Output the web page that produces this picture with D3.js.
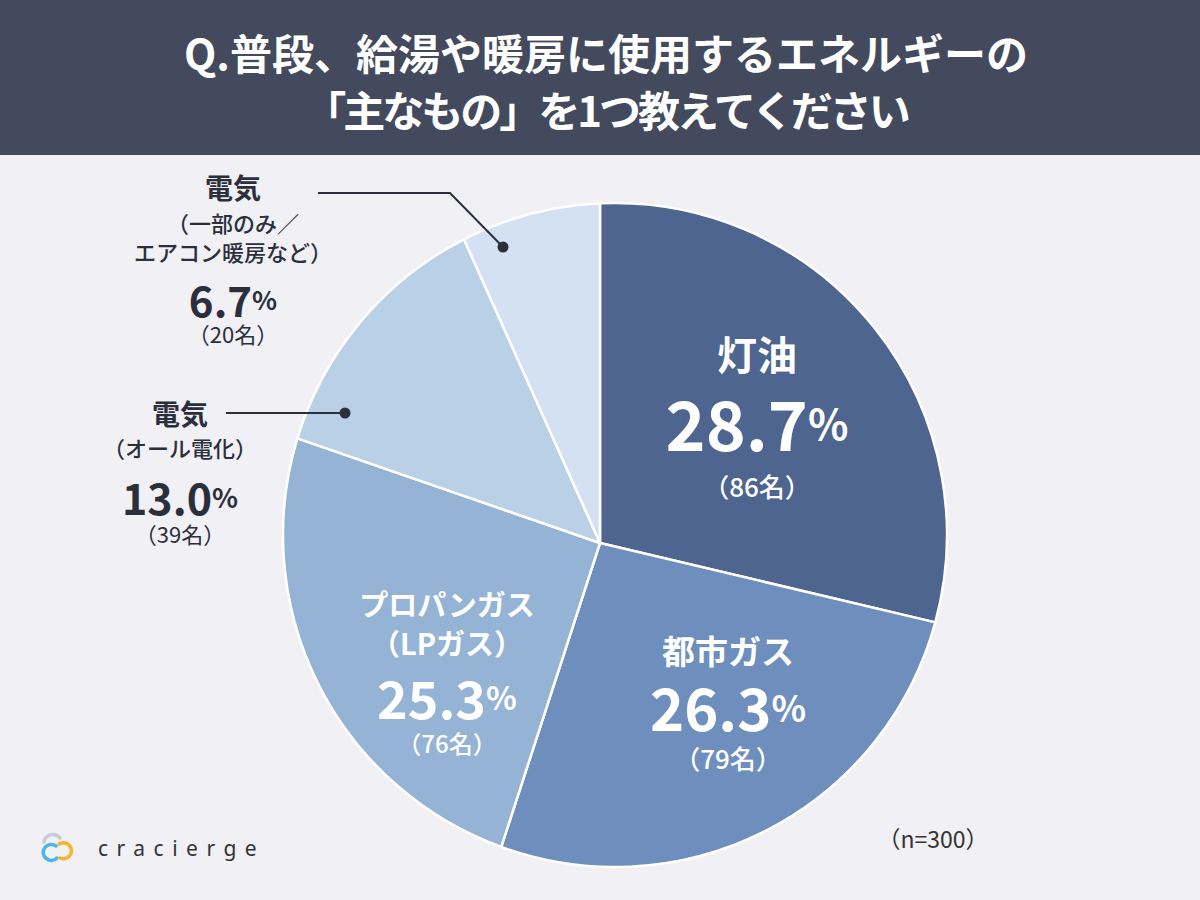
<!DOCTYPE html>
<html><head><meta charset="utf-8">
<script src="https://cdn.jsdelivr.net/npm/d3@7"></script>
<style>html,body{margin:0;padding:0;background:#f1f0f4;} svg{display:block;}</style>
</head><body><svg id="chart" width="1200" height="900"></svg>
<script>
// ---------- data ----------
const categories = ["灯油", "都市ガス", "プロパンガス（LPガス）", "電気（オール電化）", "電気（一部のみ／エアコン暖房など）"];
const percents = [28.7, 26.3, 25.3, 13.0, 6.7];
const counts = [86, 79, 76, 39, 20];
const labelLines = [["灯油"], ["都市ガス"], ["プロパンガス", "（LPガス）"], ["電気", "（オール電化）"], ["電気", "（一部のみ／", "エアコン暖房など）"]];
const titleLines = ["Q.普段、給湯や暖房に使用するエネルギーの", "「主なもの」を1つ教えてください"];
const sampleNote = "（n=300）";
const brand = "cracierge";

// ---------- styles / layout ----------
const colors = ["#4e6590", "#6e8fbd", "#95b3d4", "#b9d0e7", "#d4e1f3"];
const FONT = "'Noto Sans CJK JP','Noto Sans',sans-serif";
const dark = "#2b2f3c";
const V = {x: 600, y: 543};          // slice vertex
const C = {x: 615, y: 535}, R = 332; // outer circle
const titleStyle = [{size: 42, ls: 0}, {size: 42, ls: -3}];
const labelLayout = [
  {x: 757, ys: [353], py: 421, cy: 485, nf: 40, pf: 68, psf: 42, cf: 26, fill: "#fff", cw: 500},
  {x: 728, ys: [650], py: 706, cy: 757, nf: 33, pf: 58, psf: 36, cf: 26, fill: "#fff", cw: 500},
  {x: 447, ys: [603, 642], py: 696, cy: 742, nf: 29, pf: 52, psf: 32, cf: 24, fill: "#fff", cw: 500},
  {x: 180, ys: [413, 447], py: 496, cy: 533, nf: 28, pf: 43, psf: 27, cf: 22, fill: dark, cw: 400, sf: 22},
  {x: 233, ys: [187, 222, 251], py: 298, cy: 333, nf: 28, pf: 42, psf: 26, cf: 22, fill: dark, cw: 400, sf: 22}
];
const leaders = {3: [[226, 413], [345, 413]], 4: [[318, 193], [450, 193], [503, 247]]};

const svg = d3.select("#chart");
svg.append("rect").attr("width", 1200).attr("height", 900).attr("fill", "#f1f0f4");

// header
svg.append("rect").attr("width", 1200).attr("height", 155).attr("fill", "#434a5d");
svg.append("g").selectAll("text").data(titleLines).join("text")
  .attr("x", 606).attr("y", (d, i) => 51 + i * 57)
  .attr("text-anchor", "middle").attr("dominant-baseline", "central")
  .attr("font-family", FONT).attr("font-weight", 700)
  .attr("font-size", (d, i) => titleStyle[i].size)
  .attr("letter-spacing", (d, i) => titleStyle[i].ls)
  .attr("fill", "#fff").text(d => d);

// pie
const arcs = d3.pie().sort(null).value(d => d)(percents);
function rayPoint(a) {
  const dx = Math.sin(a), dy = -Math.cos(a);
  const ox = V.x - C.x, oy = V.y - C.y;
  const b = dx * ox + dy * oy, c = ox * ox + oy * oy - R * R;
  const t = -b + Math.sqrt(b * b - c);
  return [V.x + t * dx, V.y + t * dy];
}
function slicePath(d) {
  const p0 = rayPoint(d.startAngle), p1 = rayPoint(d.endAngle);
  const a0 = Math.atan2(p0[1] - C.y, p0[0] - C.x);
  const a1 = Math.atan2(p1[1] - C.y, p1[0] - C.x);
  let e = a1; while (e < a0) e += 2 * Math.PI;
  const p = d3.path();
  p.moveTo(V.x, V.y); p.lineTo(p0[0], p0[1]);
  p.arc(C.x, C.y, R, a0, e, false);
  p.closePath();
  return p.toString();
}
svg.append("g").selectAll("path").data(arcs).join("path")
  .attr("d", slicePath).attr("fill", (d, i) => colors[i])
  .attr("stroke", "#fff").attr("stroke-width", 2.5).attr("stroke-linejoin", "round");

// leader lines
Object.entries(leaders).forEach(([k, pts]) => {
  svg.append("path").attr("d", d3.line()(pts)).attr("fill", "none")
    .attr("stroke", dark).attr("stroke-width", 2);
  const last = pts[pts.length - 1];
  svg.append("circle").attr("cx", last[0]).attr("cy", last[1]).attr("r", 5.5).attr("fill", dark);
});

// labels
const lg = svg.append("g").attr("font-family", FONT).attr("text-anchor", "middle").attr("dominant-baseline", "central");
categories.forEach((cat, i) => {
  const L = labelLayout[i];
  labelLines[i].forEach((line, j) => {
    lg.append("text").attr("x", L.x).attr("y", L.ys[j])
      .attr("font-size", j === 0 ? L.nf : (L.sf || L.nf))
      .attr("font-weight", j === 0 ? 700 : (L.sf ? 500 : 700))
      .attr("fill", L.fill).text(line);
  });
  const pt = lg.append("text").attr("x", L.x).attr("y", L.py).attr("fill", L.fill).attr("font-weight", 700);
  pt.append("tspan").attr("font-size", L.pf).text(percents[i].toFixed(1));
  pt.append("tspan").attr("font-size", L.psf).text("%");
  lg.append("text").attr("x", L.x).attr("y", L.cy).attr("font-size", L.cf)
    .attr("font-weight", L.cw).attr("fill", L.fill).text("（" + counts[i] + "名）");
});

// note
svg.append("text").attr("x", 933).attr("y", 838).attr("text-anchor", "middle").attr("dominant-baseline", "central")
  .attr("font-family", FONT).attr("font-size", 23).attr("fill", "#333").text(sampleNote);

// brand
const logo = svg.append("g").attr("fill", "none").attr("stroke-width", 3.5).attr("stroke-linecap", "round");
logo.append("path").attr("d", "M44,842 A9,9 0 0 1 60,838").attr("stroke", "#c9cdd3");
logo.append("path").attr("d", "M56,846 A8,8 0 1 0 57,858").attr("stroke", "#4cb6ea");
logo.append("path").attr("d", "M60,858 A8,8 0 1 0 59,844").attr("stroke", "#f5b52e");
svg.append("text").attr("x", 98).attr("y", 848).attr("dominant-baseline", "central")
  .attr("font-family", "'Noto Sans',sans-serif").attr("font-size", 21).attr("letter-spacing", 8.5)
  .attr("fill", "#333").text(brand);
</script></body></html>
